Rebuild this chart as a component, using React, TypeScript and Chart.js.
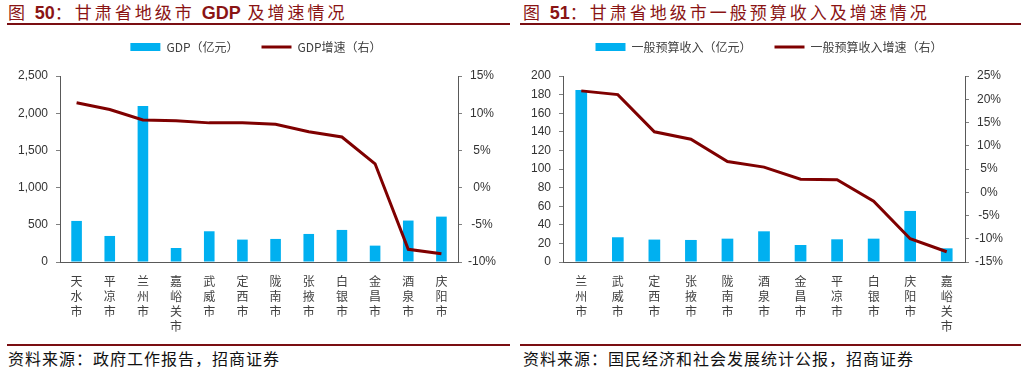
import React, { useEffect, useRef } from 'react';
import { Chart, registerables } from 'chart.js';

Chart.register(...registerables);

// ---------- Data ----------
const gdpCities = ['天水市', '平凉市', '兰州市', '嘉峪关市', '武威市', '定西市', '陇南市', '张掖市', '白银市', '金昌市', '酒泉市', '庆阳市'];
const gdpValues = [552, 350, 2096, 188, 413, 301, 310, 377, 431, 220, 557, 610];
const gdpGrowth = [11.4, 10.5, 9.1, 9.0, 8.7, 8.7, 8.5, 7.5, 6.8, 3.2, -8.3, -8.9];

const revCities = ['兰州市', '武威市', '定西市', '张掖市', '陇南市', '酒泉市', '金昌市', '平凉市', '白银市', '庆阳市', '嘉峪关市'];
const revValues = [184.9, 26.6, 24.1, 23.7, 25.1, 33.0, 18.3, 24.4, 25.1, 54.9, 14.7];
const revGrowth = [21.8, 21.0, 13.0, 11.4, 6.6, 5.4, 2.8, 2.7, -1.9, -10.0, -12.8];

const gdpLeftTicks = [0, 2500, 500];
const gdpRightTicks = [-10, 15, 5];
const revLeftTicks = [0, 200, 20];
const revRightTicks = [-15, 25, 5];

// ---------- Styles ----------
const BLUE = '#00B0F0';
const RED = '#7F0000';
const TITLE_RED = '#8A1414';
const RULE_RED = '#7A0E12';
const CJK = "'Noto Sans CJK SC', sans-serif";
const NUM = "'Liberation Sans', Arial, sans-serif";

const CANVAS_TOP = 18;
const CANVAS_H = 327;

type ComboProps = {
  left: number;
  width: number;
  cities: string[];
  bars: number[];
  line: number[];
  barLabel: string;
  lineLabel: string;
  yTicks: number[];
  y1Ticks: number[];
  yComma: boolean;
  yW: number;
  y1W: number;
};

function ComboChart(p: ComboProps) {
  const ref = useRef<HTMLCanvasElement>(null);
  useEffect(() => {
    const chart = new Chart(ref.current as HTMLCanvasElement, {
      type: 'bar',
      data: {
        labels: p.cities.map((c) => c.split('')),
        datasets: [
          {
            type: 'bar',
            label: p.barLabel,
            data: p.bars,
            backgroundColor: BLUE,
            yAxisID: 'y',
            order: 2,
            categoryPercentage: 1,
            barPercentage: 0.32,
          } as any,
          {
            type: 'line',
            label: p.lineLabel,
            data: p.line,
            borderColor: RED,
            backgroundColor: RED,
            borderWidth: 3,
            pointRadius: 0,
            tension: 0,
            yAxisID: 'y1',
            order: 1,
          } as any,
        ],
      },
      options: {
        responsive: false,
        animation: false,
        layout: { padding: 0 },
        plugins: {
          tooltip: { enabled: false },
          title: {
            display: true,
            text: '',
            position: 'top',
            weight: 500,
            font: { size: 1, lineHeight: 1 },
            padding: { top: 0, bottom: 12 },
          },
          legend: {
            display: true,
            position: 'top',
            labels: {
              usePointStyle: true,
              pointStyleWidth: 30,
              boxHeight: 8,
              padding: 23,
              color: '#404040',
              font: { family: CJK, size: 12 },
              generateLabels: () => [
                { text: p.barLabel, fillStyle: BLUE, strokeStyle: BLUE, lineWidth: 0, pointStyle: 'rect', hidden: false, datasetIndex: 0, fontColor: '#404040' } as any,
                { text: p.lineLabel, fillStyle: RED, strokeStyle: RED, lineWidth: 3, pointStyle: 'line', hidden: false, datasetIndex: 1, fontColor: '#404040' } as any,
              ],
            },
          },
        },
        scales: {
          x: {
            offset: true,
            grid: { display: false, drawTicks: false },
            border: { display: true, color: '#595959', width: 1 },
            ticks: {
              color: '#404040',
              padding: 12,
              maxRotation: 0,
              autoSkip: false,
              font: { family: CJK, size: 12, lineHeight: 1.25 },
            },
            afterFit: (s: any) => {
              s.height = 83;
            },
          },
          y: {
            position: 'left',
            min: p.yTicks[0],
            max: p.yTicks[1],
            grid: { display: true, drawOnChartArea: false, drawTicks: true, tickLength: 4, color: '#808080' },
            border: { display: true, color: '#595959', width: 1 },
            ticks: {
              stepSize: p.yTicks[2],
              color: '#333333',
              padding: 8,
              font: { family: NUM, size: 12 },
              callback: (v: any) => (p.yComma ? Number(v).toLocaleString('en-US') : String(v)),
            },
            afterFit: (s: any) => {
              s.width = p.yW;
            },
          },
          y1: {
            position: 'right',
            min: p.y1Ticks[0],
            max: p.y1Ticks[1],
            grid: { display: true, drawOnChartArea: false, drawTicks: true, tickLength: 4, color: '#808080' },
            border: { display: true, color: '#595959', width: 1 },
            ticks: {
              stepSize: p.y1Ticks[2],
              color: '#333333',
              padding: 6,
              crossAlign: 'center',
              font: { family: NUM, size: 12 },
              callback: (v: any) => `${v}%`,
            },
            afterFit: (s: any) => {
              s.width = p.y1W;
            },
          },
        },
      } as any,
    });
    return () => chart.destroy();
  }, []);
  return (
    <canvas
      ref={ref}
      width={p.width}
      height={CANVAS_H}
      style={{ position: 'absolute', left: p.left, top: CANVAS_TOP, width: p.width, height: CANVAS_H }}
    />
  );
}

function Title({ left, num, parts }: { left: number; num: string; parts: (string | { b: string })[] }) {
  return (
    <div
      style={{
        position: 'absolute',
        left,
        top: 1,
        fontFamily: CJK,
        fontSize: 17,
        lineHeight: '22px',
        letterSpacing: 3,
        color: TITLE_RED,
        whiteSpace: 'nowrap',
      }}
    >
      图{' '}
      <span style={{ fontFamily: NUM, fontWeight: 'bold', fontSize: 18, letterSpacing: 0 }}>{num}</span>
      {parts.map((pt, i) =>
        typeof pt === 'string' ? (
          <span key={i}>{pt}</span>
        ) : (
          <span key={i} style={{ fontFamily: NUM, fontWeight: 'bold', fontSize: 18, letterSpacing: 0 }}>
            {pt.b}
          </span>
        )
      )}
    </div>
  );
}

function Rule({ left, width, top, h }: { left: number; width: number; top: number; h: number }) {
  return <div style={{ position: 'absolute', left, top, width, height: h, background: RULE_RED }} />;
}

function Source({ left, text }: { left: number; text: string }) {
  return (
    <div
      style={{
        position: 'absolute',
        left,
        top: 348,
        fontFamily: CJK,
        fontSize: 16,
        lineHeight: '20px',
        letterSpacing: 1,
        color: '#111111',
        whiteSpace: 'nowrap',
      }}
    >
      {text}
    </div>
  );
}

export default function App() {
  return (
    <div style={{ position: 'absolute', left: 0, top: 0, width: 1026, height: 367, background: '#ffffff', overflow: 'hidden' }}>
      <Title left={8} num="50" parts={['：甘肃省地级市 ', { b: 'GDP' }, ' 及增速情况']} />
      <Title left={523} num="51" parts={['：甘肃省地级市一般预算收入及增速情况']} />
      <Rule left={7} width={503} top={23} h={2} />
      <Rule left={520} width={501} top={23} h={2} />
      <ComboChart
        left={0}
        width={512}
        cities={gdpCities}
        bars={gdpValues}
        line={gdpGrowth}
        barLabel="GDP（亿元）"
        lineLabel="GDP增速（右）"
        yTicks={gdpLeftTicks}
        y1Ticks={gdpRightTicks}
        yComma={true}
        yW={60}
        y1W={54}
      />
      <ComboChart
        left={512}
        width={514}
        cities={revCities}
        bars={revValues}
        line={revGrowth}
        barLabel="一般预算收入（亿元）"
        lineLabel="一般预算收入增速（右）"
        yTicks={revLeftTicks}
        y1Ticks={revRightTicks}
        yComma={false}
        yW={51}
        y1W={61}
      />
      <Rule left={7} width={503} top={344} h={2} />
      <Rule left={520} width={501} top={344} h={2} />
      <Source left={8} text="资料来源：政府工作报告，招商证券" />
      <Source left={523} text="资料来源：国民经济和社会发展统计公报，招商证券" />
    </div>
  );
}
